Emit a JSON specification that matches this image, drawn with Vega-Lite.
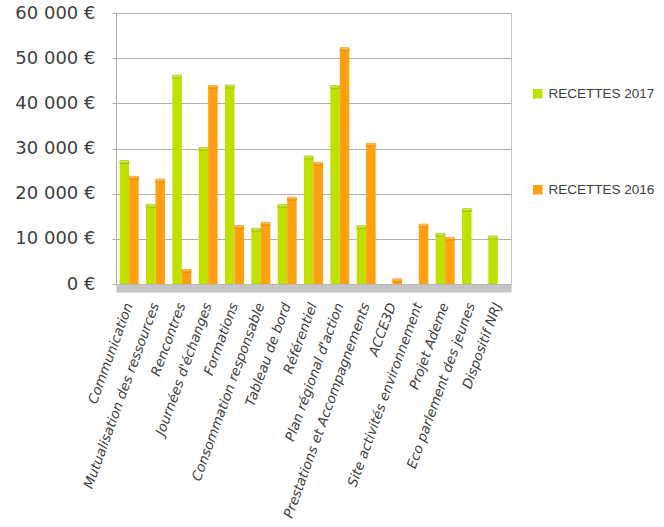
{
  "$schema": "https://vega.github.io/schema/vega-lite/v6.json",
  "autosize": {"type": "none"},
  "width": 395,
  "height": 271,
  "padding": {"left": 116, "top": 13, "right": 153, "bottom": 243},
  "background": "white",
  "data": {
    "values": [
      {"cat": "Communication", "serie": "RECETTES 2017", "v": 27000},
      {"cat": "Communication", "serie": "RECETTES 2016", "v": 23500},
      {"cat": "Mutualisation des ressources", "serie": "RECETTES 2017", "v": 17300},
      {"cat": "Mutualisation des ressources", "serie": "RECETTES 2016", "v": 22900},
      {"cat": "Rencontres", "serie": "RECETTES 2017", "v": 45900},
      {"cat": "Rencontres", "serie": "RECETTES 2016", "v": 2900},
      {"cat": "Journées d'échanges", "serie": "RECETTES 2017", "v": 29900},
      {"cat": "Journées d'échanges", "serie": "RECETTES 2016", "v": 43600},
      {"cat": "Formations", "serie": "RECETTES 2017", "v": 43700},
      {"cat": "Formations", "serie": "RECETTES 2016", "v": 12600},
      {"cat": "Consommation responsable", "serie": "RECETTES 2017", "v": 12000},
      {"cat": "Consommation responsable", "serie": "RECETTES 2016", "v": 13300},
      {"cat": "Tableau de bord", "serie": "RECETTES 2017", "v": 17300},
      {"cat": "Tableau de bord", "serie": "RECETTES 2016", "v": 18900},
      {"cat": "Référentiel", "serie": "RECETTES 2017", "v": 28000},
      {"cat": "Référentiel", "serie": "RECETTES 2016", "v": 26600},
      {"cat": "Plan régional d'action", "serie": "RECETTES 2017", "v": 43600},
      {"cat": "Plan régional d'action", "serie": "RECETTES 2016", "v": 52000},
      {"cat": "Prestations et Accompagnements", "serie": "RECETTES 2017", "v": 12600},
      {"cat": "Prestations et Accompagnements", "serie": "RECETTES 2016", "v": 30800},
      {"cat": "ACCE3D", "serie": "RECETTES 2016", "v": 800},
      {"cat": "Site activités environnement", "serie": "RECETTES 2016", "v": 12900},
      {"cat": "Projet Ademe", "serie": "RECETTES 2017", "v": 10900},
      {"cat": "Projet Ademe", "serie": "RECETTES 2016", "v": 10000},
      {"cat": "Eco parlement des jeunes", "serie": "RECETTES 2017", "v": 16400},
      {"cat": "Dispositif NRJ", "serie": "RECETTES 2017", "v": 10300}
    ]
  },
  "encoding": {
    "x": {
      "field": "cat",
      "type": "nominal",
      "sort": null,
      "scale": {"paddingInner": 0.28, "paddingOuter": 0.14},
      "axis": {
        "title": null,
        "labelAngle": -70,
        "labelAlign": "right",
        "labelBaseline": "middle",
        "labelFont": "DejaVu Sans",
        "labelFontStyle": "italic",
        "labelFontSize": 13.5,
        "labelColor": "#404040",
        "labelPadding": 15,
        "labelLimit": 400,
        "ticks": false,
        "domainColor": "#C4C4C4",
        "domainWidth": 8,
        "offset": 4
      }
    },
    "xOffset": {
      "field": "serie",
      "type": "nominal",
      "sort": ["RECETTES 2017", "RECETTES 2016"],
      "scale": {"domain": ["RECETTES 2017", "RECETTES 2016"]}
    },
    "y": {
      "field": "v",
      "type": "quantitative",
      "scale": {"domain": [0, 60000]},
      "axis": {
        "title": null,
        "values": [0, 10000, 20000, 30000, 40000, 50000, 60000],
        "labelExpr": "replace(format(datum.value, ',d'), ',', ' ') + ' €'",
        "labelFont": "DejaVu Sans",
        "labelFontSize": 18,
        "labelColor": "#404040",
        "labelPadding": 17,
        "tickSize": 4,
        "tickColor": "#B0B0B0",
        "domainColor": "#B0B0B0",
        "gridColor": "#B0B0B0",
        "gridWidth": 1
      }
    }
  },
  "layer": [
    {
      "mark": {"type": "bar"},
      "encoding": {
        "color": {
          "field": "serie",
          "type": "nominal",
          "scale": {"domain": ["RECETTES 2017", "RECETTES 2016"], "range": ["#C0E000", "#FFA010"]},
          "legend": {
            "title": null,
            "orient": "none",
            "legendX": 415,
            "legendY": 74,
            "symbolType": "square",
            "symbolSize": 90,
            "symbolStrokeWidth": 0,
            "rowPadding": 81,
            "labelFont": "Liberation Sans",
            "labelFontSize": 13.5,
            "labelColor": "#404040",
            "labelOffset": 4,
            "labelLimit": 200
          }
        }
      }
    },
    {
      "mark": {"type": "tick", "thickness": 3, "size": 9},
      "encoding": {
        "color": {
          "field": "serie",
          "type": "nominal",
          "scale": {"domain": ["RECETTES 2017", "RECETTES 2016"], "range": ["#C0E000", "#FFA010"]},
          "legend": null
        },
        "stroke": {
          "field": "serie",
          "type": "nominal",
          "scale": {"domain": ["RECETTES 2017", "RECETTES 2016"], "range": ["#9CBC00", "#EC8A00"]},
          "legend": null
        }
      }
    }
  ],
  "config": {
    "view": {"stroke": "#C4C4C4"},
    "axis": {"gridColor": "#B0B0B0"}
  }
}
